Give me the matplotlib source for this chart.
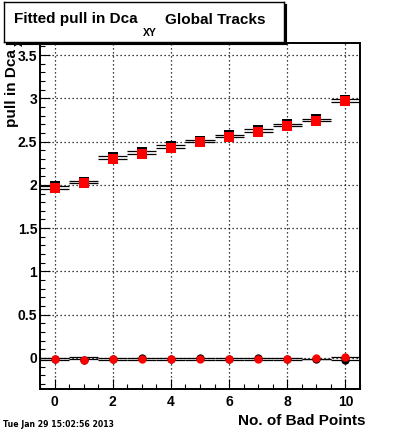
import matplotlib
matplotlib.use("Agg")
import matplotlib.pyplot as plt
import numpy as np

# ---------------- data ----------------
bad_points = [0, 1, 2, 3, 4, 5, 6, 7, 8, 9, 10]

# fitted pull mean (red squares)
fit_mean = [1.965, 2.021, 2.297, 2.353, 2.428, 2.494, 2.553, 2.613, 2.680, 2.738, 2.965]
# histogram mean (black squares)
hist_mean = [1.991, 2.038, 2.327, 2.385, 2.454, 2.512, 2.573, 2.639, 2.700, 2.758, 2.986]
# histogram error band (upper / lower)
hist_hi = [1.991, 2.043, 2.335, 2.390, 2.466, 2.517, 2.578, 2.647, 2.705, 2.763, 2.994]
hist_lo = [1.957, 2.020, 2.301, 2.358, 2.428, 2.494, 2.551, 2.613, 2.678, 2.740, 2.963]

# lower series near zero (red circles = fitted, black = histogram)
fit_low = [-0.01, -0.02, -0.01, -0.01, -0.01, -0.01, -0.01, -0.01, -0.01, 0.0, 0.01]
hist_low = [-0.01, -0.02, -0.01, -0.005, -0.01, -0.005, -0.01, -0.005, -0.01, -0.01, -0.025]
hist_low_hi = [0.0, 0.01, 0.0, 0.0, 0.0, 0.0, 0.0, 0.0, 0.0, -0.01, 0.015]
hist_low_lo = [-0.02, -0.01, -0.02, -0.02, -0.02, -0.02, -0.02, -0.02, -0.02, -0.01, -0.02]

x_ticks = [0, 2, 4, 6, 8, 10]
y_ticks = [0, 0.5, 1, 1.5, 2, 2.5, 3, 3.5]
y_tick_labels = ["0", "0.5", "1", "1.5", "2", "2.5", "3", "3.5"]

title_main = "Fitted pull in Dca"
title_sub = "XY"
title_rest = "Global Tracks"
y_label = "pull in Dca"
x_label = "No. of Bad Points"
date_text = "Tue Jan 29 15:02:56 2013"

# ---------------- layout ----------------
W, H = 400, 433
FONT = "Liberation Sans"
fig = plt.figure(figsize=(W / 100, H / 100), dpi=100)


def fx(px):
    return px / W


def fy(py):
    return 1 - py / H


L, R, T, B = 40, 360, 43, 389
ax = fig.add_axes([fx(L), fy(B), (R - L) / W, (B - T) / H])
ax.set_xlim(-0.5, 10.5)
ax.set_ylim(-0.36, 3.64)

x = np.array(bad_points, dtype=float)

# grid
for xv in x_ticks:
    ax.axvline(xv, color="black", lw=0.9, ls=(0, (1, 2.2)), zorder=1)
for yv in y_ticks:
    ax.axhline(yv, color="black", lw=0.9, ls=(0, (1, 2.2)), zorder=1)

# bands
ax.hlines(hist_hi, x - 0.5, x + 0.5, color="black", lw=0.9, zorder=2)
ax.hlines(hist_lo, x - 0.5, x + 0.5, color="black", lw=0.9, zorder=2)
ax.hlines(hist_low_hi, x - 0.5, x + 0.5, color="black", lw=0.9, zorder=2)
ax.hlines(hist_low_lo, x - 0.5, x + 0.5, color="black", lw=0.9, zorder=2)

ms_sq = 6.7
ax.plot(x, hist_mean, ls="none", marker="s", ms=ms_sq, mfc="black", mec="black", mew=0, zorder=3)
ax.plot(x, fit_mean, ls="none", marker="s", ms=ms_sq, mfc="red", mec="red", mew=0, zorder=4)

ms_c = 6.0
ax.plot(x, hist_low, ls="none", marker="o", ms=ms_c, mfc="black", mec="black", mew=0, zorder=3)
ax.plot(x, fit_low, ls="none", marker="o", ms=ms_c, mfc="red", mec="red", mew=0, zorder=4)

# ticks
ax.set_xticks(x_ticks)
ax.set_xticks(np.arange(-0.5, 10.51, 0.5), minor=True)
ax.set_yticks(y_ticks)
ax.set_yticklabels(y_tick_labels)
ax.set_yticks(np.arange(-0.3, 3.64, 0.1), minor=True)
ax.tick_params(which="both", direction="in", top=False, right=False, width=0.8, color="black")
ax.tick_params(which="major", length=7.2)
ax.tick_params(which="minor", length=3.6)
ax.tick_params(axis="x", which="major", pad=4.5)
ax.tick_params(axis="y", which="major", pad=2)
for lab in ax.get_xticklabels() + ax.get_yticklabels():
    lab.set_fontfamily(FONT)
    lab.set_fontweight("bold")
    lab.set_fontsize(10)
for sp in ax.spines.values():
    sp.set_linewidth(1.4)

# axis labels
fig.text(fx(366), fy(421), x_label, ha="right", va="center", fontsize=11,
         fontweight="bold", fontfamily=FONT)
fig.text(fx(12), fy(127), y_label, rotation=90, ha="center", va="bottom", fontsize=11,
         fontweight="bold", fontfamily=FONT, zorder=1)
fig.text(fx(20), fy(46), title_sub, rotation=90, ha="center", va="bottom", fontsize=7.5,
         fontweight="bold", fontfamily=FONT, zorder=1)

# title box (with shadow)
shadow = fig.add_axes([fx(6), fy(44), 280 / W, 40 / H], zorder=4)
shadow.set_facecolor("black")
shadow.set_xticks([]); shadow.set_yticks([])
tax = fig.add_axes([fx(4), fy(42), 280 / W, 40 / H], zorder=5)
tax.set_facecolor("white")
tax.set_xticks([]); tax.set_yticks([])
for sp in tax.spines.values():
    sp.set_linewidth(1.0)
fig.text(fx(14), fy(23.5), title_main, ha="left", va="baseline", fontsize=11,
         fontweight="bold", fontfamily=FONT, zorder=6)
fig.text(fx(143), fy(35.7), title_sub, ha="left", va="baseline", fontsize=7.5,
         fontweight="bold", fontfamily=FONT, zorder=6)
fig.text(fx(165), fy(23.5), title_rest, ha="left", va="baseline", fontsize=11,
         fontweight="bold", fontfamily=FONT, zorder=6)

# date stamp
fig.text(fx(3), fy(424.7), date_text, ha="left", va="center", fontsize=5.6,
         fontweight="bold", fontfamily="DejaVu Sans")

fig.savefig("out.png", dpi=100)
